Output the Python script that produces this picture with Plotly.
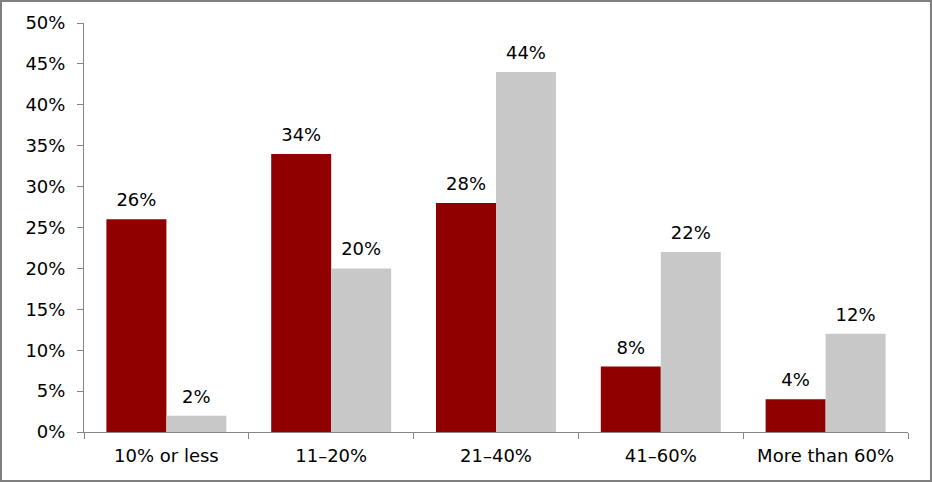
import plotly.graph_objects as go

categories = ["10% or less", "11–20%", "21–40%", "41–60%", "More than 60%"]
series_a = [26, 34, 28, 8, 4]
series_b = [2, 20, 44, 22, 12]
y_ticks = [0, 5, 10, 15, 20, 25, 30, 35, 40, 45, 50]

RED = "#900000"
GRAY = "#C8C8C8"
AXIS = "#868686"
FONT = "DejaVu Sans"
FS = 18

W, H = 932, 482
ml, mr, mt, mb = 84, 24, 23, 50
pw, ph = W - ml - mr, H - mt - mb

fig = go.Figure()
for name, vals, col in [("a", series_a, RED), ("b", series_b, GRAY)]:
    fig.add_trace(go.Bar(
        x=categories, y=vals, offsetgroup=name,
        marker=dict(color=col, line=dict(width=0)),
        showlegend=False, hoverinfo="skip",
    ))
    fig.add_trace(go.Scatter(
        x=categories, y=vals, offsetgroup=name, mode="markers+text",
        marker=dict(size=12, opacity=0), text=[f"{v}%" for v in vals],
        textposition="top center",
        textfont=dict(family=FONT, size=FS, color="black"),
        cliponaxis=False, showlegend=False, hoverinfo="skip",
    ))

fig.update_layout(
    width=W, height=H, barmode="group", scattermode="group",
    bargap=0.272, bargroupgap=0, scattergap=0.272,
    margin=dict(l=ml, r=mr, t=mt, b=mb, pad=0),
    plot_bgcolor="white", paper_bgcolor="white",
    font=dict(family=FONT, size=FS, color="black"),
    xaxis=dict(showline=True, linecolor=AXIS, linewidth=1,
               ticks="outside", tickson="boundaries", ticklen=6, tickcolor=AXIS,
               showgrid=False, tickfont=dict(size=FS), ticklabelstandoff=7),
    yaxis=dict(range=[0, 50], tickvals=y_ticks, ticktext=[f"{v}%" for v in y_ticks],
               showline=True, linecolor=AXIS, linewidth=1,
               ticks="outside", ticklen=6, tickcolor=AXIS,
               showgrid=False, zeroline=False, tickfont=dict(size=FS),
               ticklabelstandoff=8),
    shapes=[dict(type="rect", xref="paper", yref="paper",
                 x0=(1 - ml) / pw, x1=(W - 1 - ml) / pw,
                 y0=(mt + ph - (H - 1)) / ph, y1=(mt + ph - 1) / ph,
                 line=dict(color="#7F7F7F", width=2), layer="below")],
)

fig.write_html("out.html", config={"displayModeBar": False},
               post_script="document.body.style.margin='0';document.body.style.overflow='hidden';")
